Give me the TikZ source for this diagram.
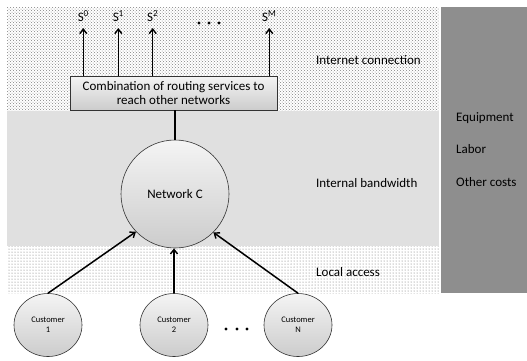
\documentclass[tikz,border=0pt]{standalone}
\usepackage{fontspec}
\setmainfont{Carlito}
\usetikzlibrary{patterns,arrows.meta,shapes.geometric}
\definecolor{lightband}{HTML}{E0E0E0}
\definecolor{darkcol}{HTML}{8E8E8E}
\definecolor{shadetop}{HTML}{F4F4F4}
\definecolor{shadebot}{HTML}{CCCCCC}
\begin{document}
\begin{tikzpicture}[x=1pt,y=-1pt,
  every node/.style={font=\fontsize{13}{14}\selectfont},
  shaded/.style={draw=black!80, line width=0.6pt, top color=shadetop, bottom color=shadebot},
  arr/.style={line width=1.5pt, -{Straight Barb[length=4.5pt,width=7pt,line width=1.4pt]}},
  plain/.style={line width=1.4pt},
  sidelabel/.style={anchor=base west, inner sep=0pt},
  custnode/.style={shaded, ellipse, minimum width=68pt, minimum height=63pt, inner sep=0pt, align=center, font=\fontsize{8.5}{10}\selectfont}
]
\useasboundingbox (0,0) rectangle (527,360);
% bands
\path[pattern=crosshatch dots, pattern color=black!50] (7,7) rectangle (439,111);
\fill[lightband] (7,111) rectangle (439,246);
\path[pattern=dots, pattern color=black!60] (7,246) rectangle (439,293);
\fill[darkcol] (441,7) rectangle (527,293);

% routing box
\node[shaded, minimum width=207pt, minimum height=34pt, inner sep=0pt, align=center] (box) at (173.5,93)
  {Combination of routing services to\\reach other networks};

% network circle
\node[shaded, circle, minimum size=108pt, inner sep=0pt] (nc) at (175,194) {Network C};
\draw[plain] (nc.north) -- (nc.north |- box.south);

% outgoing arrows
\coordinate (t0) at (83.3,28);
\coordinate (t1) at (118.3,28);
\coordinate (t2) at (152.7,28);
\coordinate (tM) at (269.3,28);
\foreach \t in {t0,t1,t2,tM} \draw[arr] (box.north -| \t) -- (\t);
\node (s0) at (83.3,16) {S\textsuperscript{0}};
\node (s1) at (118.3,16) {S\textsuperscript{1}};
\node (s2) at (152.7,16) {S\textsuperscript{2}};
\node (sM) at (269.3,16) {S\textsuperscript{M}};
\foreach \x in {199,209,219} \fill (\x,23) circle (1.6pt);

% customers
\node[custnode] (c1) at (48,325) {Customer\\1};
\node[custnode] (c2) at (174,325) {Customer\\2};
\node[custnode] (cN) at (298,325) {Customer\\N};
\foreach \x in {226,237,247} \fill (\x,329) circle (1.6pt);
\draw[arr] (c1.north) -- (nc.224);
\draw[arr] (c2.north) -- (c2.north |- nc.south);
\draw[arr] (cN.north) -- (nc.-45);

% side labels
\node[sidelabel] (l1) at (316,64.3) {Internet connection};
\node[sidelabel] (l2) at (316,187.3) {Internal bandwidth};
\node[sidelabel] (l3) at (316,276.3) {Local access};
\node[sidelabel] (r1) at (456,121.3) {Equipment};
\node[sidelabel] (r2) at (456,153.3) {Labor};
\node[sidelabel] (r3) at (456,186.3) {Other costs};
\end{tikzpicture}
\end{document}
